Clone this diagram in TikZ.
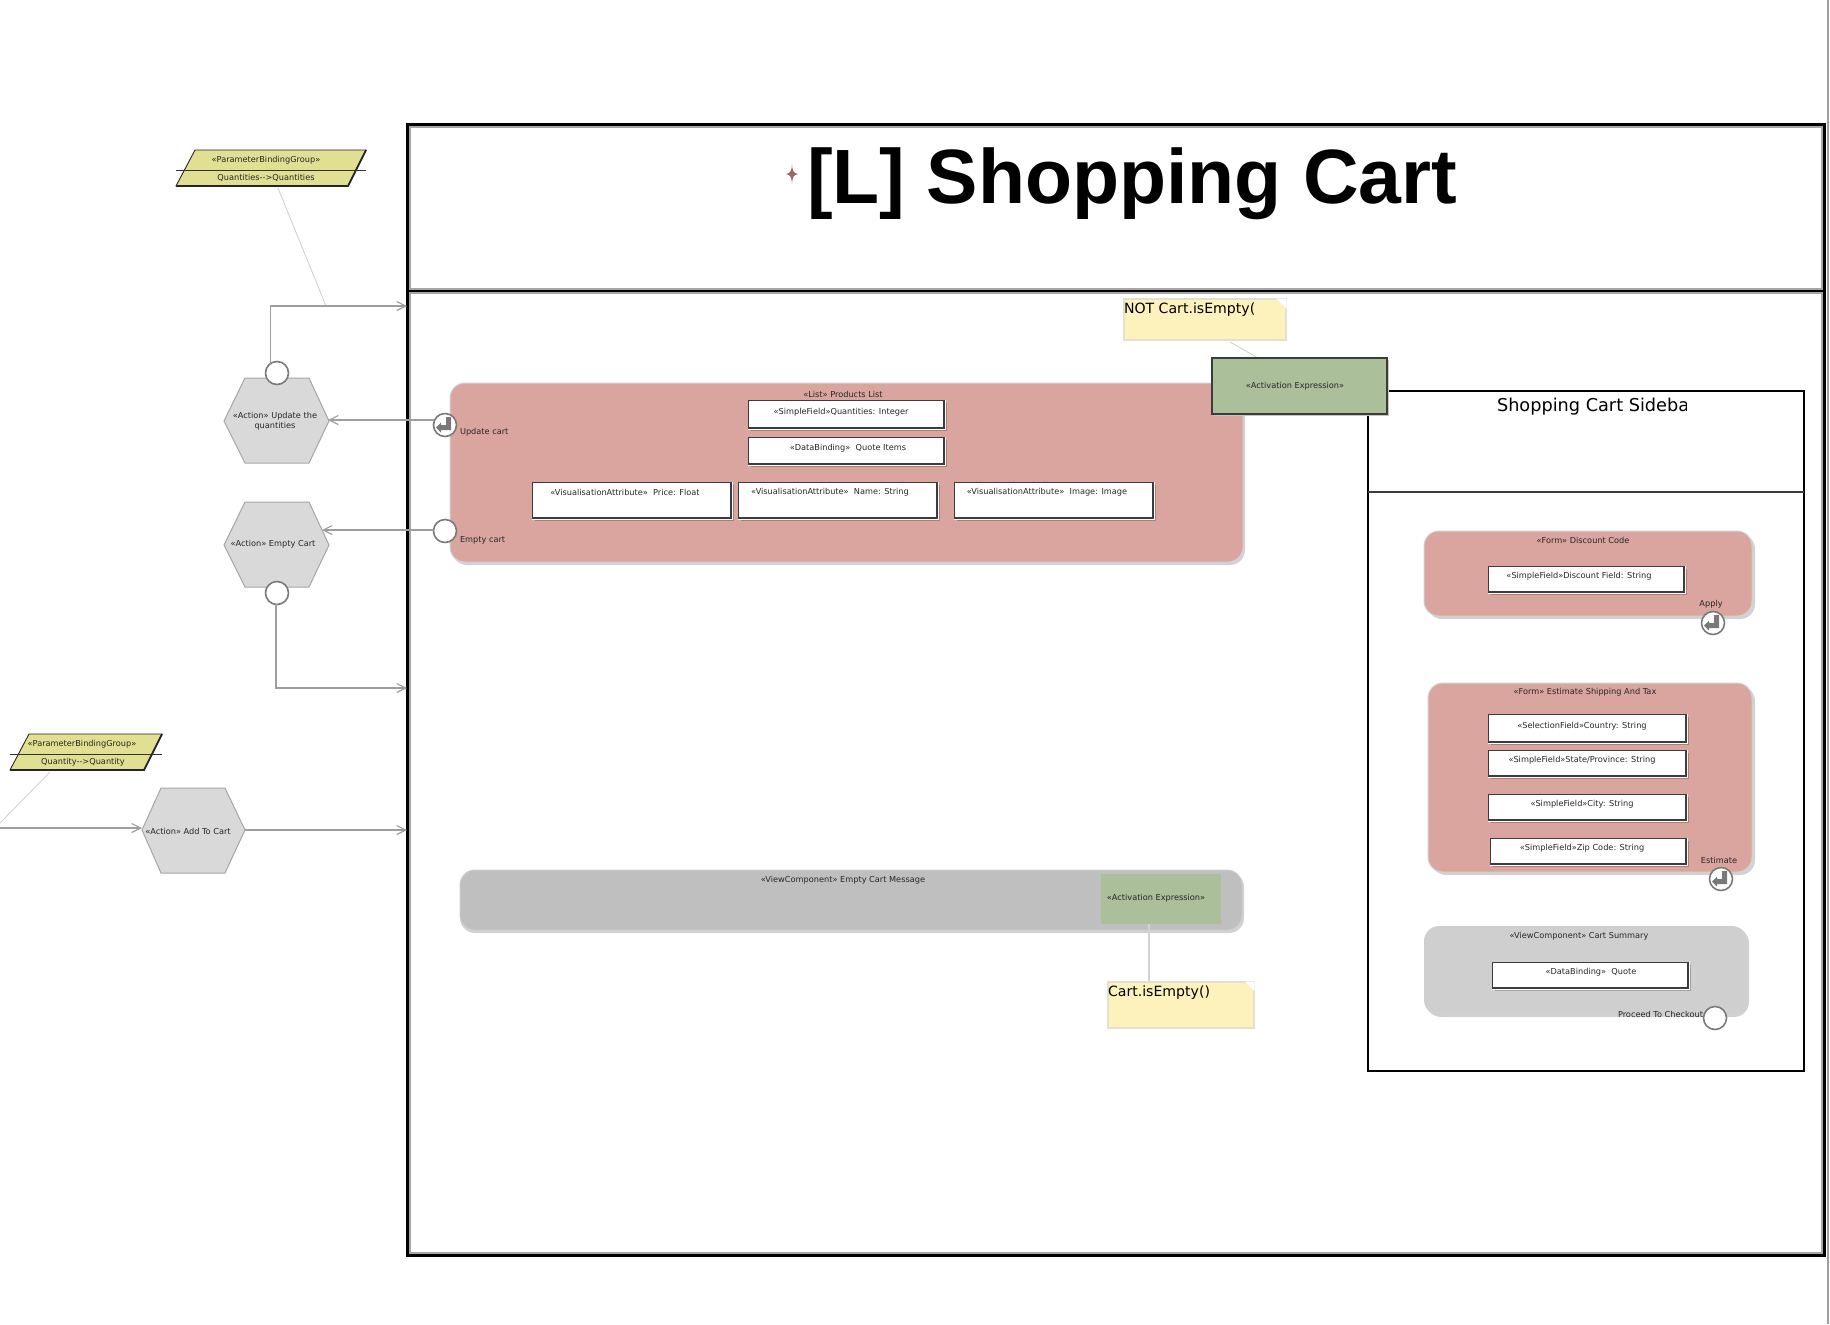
\documentclass[tikz,border=0pt]{standalone}
\usepackage{fontspec}
\setmainfont{DejaVu Sans}
\newfontfamily\titlefont{Liberation Sans}
\usetikzlibrary{arrows.meta}
\definecolor{formpink}{HTML}{D9A59E}
\definecolor{paramyel}{HTML}{E0DF92}
\definecolor{actgreen}{HTML}{ABBF9A}
\definecolor{hexgray}{HTML}{D9D9D9}
\definecolor{hexline}{HTML}{A6A6A6}
\definecolor{connline}{HTML}{9E9E9E}
\definecolor{linkline}{HTML}{D2D2D2}
\definecolor{notefill}{HTML}{FDF2BC}
\definecolor{noteline}{HTML}{E2E0CF}
\definecolor{viewgray}{HTML}{CFCFCF}
\definecolor{msggray}{HTML}{BFBFBF}
\definecolor{darkline}{HTML}{3C3C3C}
\newcommand{\smallfont}{\fontsize{4.1}{4.9}\selectfont}
\tikzset{
  x=0.5pt,y=-0.5pt,
  every node/.style={inner sep=0pt,outer sep=0pt,text=black!85},
  lbl/.style={font=\smallfont,align=center,yshift=-0.5pt},
  lblleft/.style={font=\smallfont,anchor=west,yshift=-0.5pt},
  frameline/.style={line width=1.9pt,draw=black},
  frameshade/.style={line width=0.7pt,draw=gray!70},
  sideline/.style={line width=0.75pt,draw=black},
  conn/.style={line width=0.8pt,draw=connline},
  arr/.style={conn,-{Straight Barb[length=4.5pt,width=4.5pt,line width=0.6pt]}},
  linkl/.style={line width=0.45pt,draw=linkline},
  hexshape/.style={fill=hexgray,draw=hexline,line width=0.5pt},
  paramshape/.style={fill=paramyel,draw=black!85,line width=0.45pt},
  port/.style={circle,minimum size=11.5pt,fill=white,draw=gray!95!black,line width=0.8pt},
  bigshadow/.style={fill=gray!35,draw=none,rounded corners=7.5pt},
  pinkbox/.style={fill=formpink,draw=gray!35,line width=0.5pt,rounded corners=7.5pt},
  viewbox/.style={fill=viewgray,draw=none,rounded corners=7.5pt},
  msgbox/.style={fill=msggray,draw=gray!40,line width=0.5pt,rounded corners=7.5pt},
  fieldshadow/.style={fill=black,fill opacity=0.22,draw=none},
  fieldface/.style={fill=white,draw=darkline,line width=0.45pt},
  fieldedge/.style={draw=darkline,line width=0.85pt},
  notebox/.style={fill=notefill,draw=noteline,line width=0.6pt},
  activ/.style={fill=actgreen,draw=darkline,line width=0.55pt},
  notetext/.style={font=\fontsize{7.05}{9}\selectfont,anchor=west,text=black},
}
% a field: left, top, right, bottom
\newcommand{\fieldrect}[4]{%
  \fill[fieldshadow] (#1+3,#2+3) rectangle (#3+3,#4+3);
  \draw[white,line width=0.8pt] (#3+1.5,#2) -- (#3+1.5,#4+1.5) -- (#1,#4+1.5);
  \draw[fieldface] (#1,#2) rectangle (#3,#4);
  \draw[fieldedge] (#3,#2) -- (#3,#4) -- (#1,#4);
}
% submit arrow glyph inside a port centred at x,y
\newcommand{\entericon}[2]{%
  \fill[gray!95!black] (#1+1,#2-8) -- (#1+6,#2-8) -- (#1+6,#2+5) -- (#1-4,#2+5) -- (#1-4,#2+7.5) -- (#1-9,#2+2.6) -- (#1-4,#2-2.3) -- (#1-4,#2) -- (#1+1,#2) -- cycle;
}
\begin{document}
\begin{tikzpicture}
\useasboundingbox (0,0) rectangle (1830,1324);

% right-hand window edge
\draw[draw=gray!75,line width=1pt] (1828,0) -- (1828,1324);

% main frame
\draw[frameshade] (410,127) rectangle (1822,1253);
\draw[line width=2.6pt,draw=gray!70] (408,291) -- (1824,291);
\draw[frameline] (407.5,124.5) rectangle (1824.5,1255.5);
\draw[line width=1.3pt,draw=black] (408,291) -- (1824,291);
\coordinate (f1) at (407,306);
\coordinate (f2) at (407,688);
\coordinate (f3) at (407,830);

% title
\fill[gray!80!red] (792,164) .. controls (792.6,171) and (793,173) .. (798,174) .. controls (793,175) and (792.6,177) .. (792,184) .. controls (791.4,177) and (791,175) .. (786,174) .. controls (791,173) and (791.4,171) .. (792,164) -- cycle;
\node[anchor=base west,text=black,font=\titlefont\bfseries\fontsize{38.5}{44}\selectfont] (title) at (807,203) {[L] Shopping Cart};

% parameter binding group 1
\draw[paramshape] (195,150) -- (366,150) -- (348,186) -- (176,186) -- cycle;
\draw[line width=0.9pt,draw=black!85] (176,186) -- (348,186) -- (366,150);
\draw[line width=0.4pt,draw=black!80] (176,170) -- (366,170);
\node[lbl] (pb1a) at (266,159) {«ParameterBindingGroup»};
\node[lbl] (pb1b) at (266,177) {Quantities-{}-{}>Quantities};
\coordinate (pb1c) at (278,188);
\coordinate (pb1d) at (326,306);
\draw[linkl] (pb1c) -- (pb1d);

% parameter binding group 2
\draw[paramshape] (29,734) -- (162,734) -- (144,770) -- (10,770) -- cycle;
\draw[line width=0.9pt,draw=black!85] (10,770) -- (144,770) -- (162,734);
\draw[line width=0.4pt,draw=black!80] (10,754) -- (162,754);
\node[lbl] (pb2a) at (82,743) {«ParameterBindingGroup»};
\node[lbl] (pb2b) at (83,761) {Quantity-{}-{}>Quantity};
\coordinate (pb2c) at (50,772);
\coordinate (pb2d) at (0,823);
\draw[linkl] (pb2c) -- (pb2d);

% hexagons
\draw[hexshape] (224,421) -- (245,378) -- (309,378) -- (329,421) -- (309,463) -- (245,463) -- cycle;
\node[lbl] (h1) at (275,420) {«Action» Update the\\quantities};
\coordinate (h1in) at (328,420);
\draw[hexshape] (224,545) -- (245,502) -- (309,502) -- (329,545) -- (309,587) -- (245,587) -- cycle;
\node[lbl] (h2) at (273,543) {«Action» Empty Cart};
\coordinate (h2in) at (322,530);
\draw[hexshape] (142,830) -- (161,788) -- (225,788) -- (245,830) -- (225,873) -- (161,873) -- cycle;
\node[lbl] (h3) at (188,830) {«Action» Add To Cart};
\coordinate (h3in) at (142,828);
\coordinate (h3out) at (245,830);
\coordinate (h3src) at (0,828);

% hexagon ports
\node[port] (p1) at (277,373) {};
\node[port] (p2) at (277,593) {};
\draw[arr] (p1.125) |- (f1);
\draw[arr] (p2.south) -- ++(-1,0) |- (f2);
\draw[arr] (h3src) -- (h3in);
\draw[arr] (h3out) -- (f3);

% products list
\fill[bigshadow] (452,385) rectangle (1245,565);
\draw[pinkbox] (450,383) rectangle (1243,562);
\node[lbl] (list) at (843,393) {«List» Products List};
\fieldrect{748}{400}{944}{428}
\node[lbl] (qf) at (841,411) {«SimpleField»Quantities: Integer};
\fieldrect{748}{437}{944}{464}
\node[lbl] (db) at (848,447) {«DataBinding»\ \ Quote Items};
\fieldrect{532}{482}{731}{518}
\node[lbl] (v1) at (625,491) {«VisualisationAttribute»\ \ Price: Float};
\fieldrect{738}{482}{937}{518}
\node[lbl] (v2) at (830,491) {«VisualisationAttribute»\ \ Name: String};
\fieldrect{954}{482}{1153}{518}
\node[lbl] (v3) at (1047,491) {«VisualisationAttribute»\ \ Image: Image};
\node[lblleft] (uc) at (460,431) {Update cart};
\node[lblleft] (ec) at (460,539) {Empty cart};

% list ports and their flows
\node[port] (upd) at (445,425) {};
\node[port] (emp) at (445,531) {};
\draw[arr] (upd.west |- h1in) -- (h1in);
\draw[arr] (emp.west |- h2in) -- (h2in);
\entericon{445}{425}

% top note and activation
\draw[notebox] (1124,299) rectangle (1286,340);
\fill[white] (1276,298.5) -- (1286.5,298.5) -- (1286.5,309) -- cycle;
\node[notetext] (n1) at (1124,309.5) {NOT Cart.isEmpty(};
\coordinate (n1c) at (1230,342);
\coordinate (a1c) at (1258,358);
\draw[linkl] (n1c) -- (a1c);

% sidebar
\draw[sideline] (1368,391) rectangle (1804,1071);
\draw[line width=0.9pt,draw=darkline] (1368,492) -- (1804,492);
\begin{scope}
\clip (1490,392) rectangle (1686,425);
\node[anchor=west,text=black,font=\fontsize{8.85}{10}\selectfont] (sb) at (1497,407) {Shopping Cart Sideba};
\end{scope}

% activation expression
\fill[gray!45] (1214,360) rectangle (1389,416);
\draw[activ] (1212,358) rectangle (1387,414);
\draw[line width=0.9pt,draw=darkline] (1387,358) -- (1387,414) -- (1212,414);
\node[lbl] (a1) at (1295,385) {«Activation Expression»};

% discount form
\fill[bigshadow] (1427,534) rectangle (1755,619);
\draw[pinkbox] (1424,531) rectangle (1752,616);
\node[lbl] (fd) at (1583,539) {«Form» Discount Code};
\fieldrect{1488}{566}{1684}{592}
\node[lbl] (fdf) at (1579,575) {«SimpleField»Discount Field: String};
\node[lbl] (ap) at (1711,603) {Apply};
\node[port] (pa) at (1713,623) {};
\entericon{1713}{623}

% estimate form
\fill[bigshadow] (1431,686) rectangle (1755,875);
\draw[pinkbox] (1428,683) rectangle (1752,872);
\node[lbl] (fe) at (1585,691) {«Form» Estimate Shipping And Tax};
\fieldrect{1488}{714}{1686}{742}
\node[lbl] (fe1) at (1582,725) {«SelectionField»Country: String};
\fieldrect{1488}{750}{1686}{776}
\node[lbl] (fe2) at (1582,759) {«SimpleField»State/Province: String};
\fieldrect{1488}{794}{1686}{820}
\node[lbl] (fe3) at (1582,803) {«SimpleField»City: String};
\fieldrect{1490}{838}{1686}{864}
\node[lbl] (fe4) at (1582,847) {«SimpleField»Zip Code: String};
\node[lbl] (es) at (1719,859) {Estimate};
\node[port] (pe) at (1721,879) {};
\entericon{1721}{879}

% cart summary
\fill[bigshadow] (1426,928) rectangle (1749,1017);
\fill[viewbox] (1424,926) rectangle (1747,1015);
\node[lbl] (cs) at (1579,935) {«ViewComponent» Cart Summary};
\fieldrect{1492}{962}{1688}{988}
\node[lbl] (csf) at (1591,971) {«DataBinding»\ \ Quote};
\node[lbl,anchor=east] (pc) at (1703,1013) {Proceed To Checkout};
\node[port] (pp) at (1715,1018) {};

% empty cart message
\fill[bigshadow] (460,872) rectangle (1244,933);
\draw[msgbox] (460,870) rectangle (1242,930);
\node[lbl] (m) at (843,879) {«ViewComponent» Empty Cart Message};
\fill[actgreen] (1101,874) rectangle (1221,924);
\node[lbl] (a2) at (1156,897) {«Activation Expression»};
\coordinate (a2c) at (1149,924);
\coordinate (n2c) at (1149,982);
\draw[linkl,line width=0.7pt] (a2c) -- (n2c);
\draw[notebox] (1108,982) rectangle (1254,1028);
\fill[white] (1245,981.5) -- (1254.5,981.5) -- (1254.5,991) -- cycle;
\node[notetext] (n2) at (1108,993) {Cart.isEmpty()};
\end{tikzpicture}
\end{document}
